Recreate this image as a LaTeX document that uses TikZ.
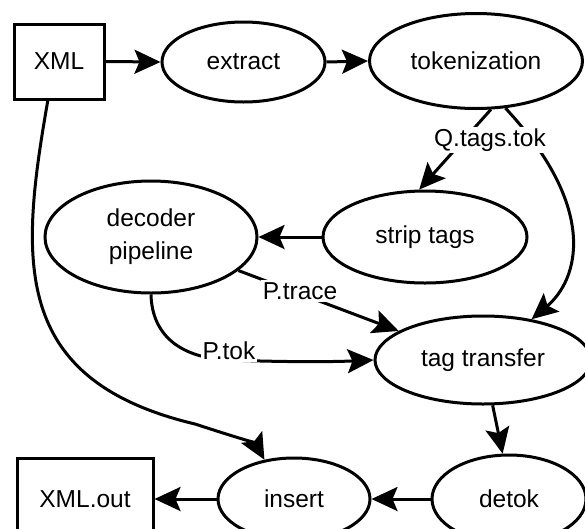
\documentclass[tikz,border=0pt]{standalone}
\usepackage{fontspec}
\setmainfont{Liberation Sans}
\usetikzlibrary{shapes.geometric,arrows.meta}
\begin{document}
\begin{tikzpicture}[x=1pt,y=-1pt,line width=3pt,
  every node/.style={font=\fontsize{24.5}{33}\selectfont},
  ell/.style={draw,ellipse,inner sep=0pt,align=center},
  box/.style={draw,rectangle,inner sep=0pt},
  arr/.style={-{Stealth[length=26pt,width=24pt,inset=5pt]}},
  lbl/.style={fill=white,inner sep=2pt}]
\useasboundingbox (0,0) rectangle (585,528);
% nodes
\node[box,minimum width=90pt,minimum height=75pt] (xml) at (59,61.5) {XML};
\node[ell,minimum width=163pt,minimum height=80pt] (extract) at (243.5,62) {extract};
\node[ell,minimum width=213pt,minimum height=95pt] (tok) at (476,61) {tokenization};
\node[ell,minimum width=204pt,minimum height=92pt] (strip) at (425,237) {strip tags};
\node[ell,minimum width=212pt,minimum height=112pt] (dec) at (151,237) {decoder\\pipeline};
\node[ell,minimum width=216pt,minimum height=88pt] (tt) at (483,360) {tag transfer};
\node[ell,minimum width=154pt,minimum height=88pt] (detok) at (509,499) {detok};
\node[ell,minimum width=152pt,minimum height=82pt] (insert) at (294,499) {insert};
\node[box,minimum width=136pt,minimum height=82pt] (xmlout) at (85,499) {XML.out};
% edges
\draw[arr] (xml.east) -- (extract.west);
\draw[arr] (extract.east) -- (tok.west);
\draw[arr] (tok.-73) -- (strip.97);
\draw[arr] (tok.-58) .. controls (600,210) and (578,280) .. (tt.40);
\node[lbl] (qlab) at (490,140) {Q.tags.tok};
\draw[arr] (strip.west) -- (dec.east);
\draw[arr] (dec.-21) -- (tt.161);
\node[lbl] (ptrace) at (300,291) {P.trace};
\draw[arr] (dec.-90) .. controls (152,335) and (180,358) .. (229,360) .. controls (280,362) and (330,362) .. (tt.west);
\node[lbl] (ptok) at (229,351) {P.tok};
\draw[arr] (xml.-106) .. controls (20,260) and (10,380) .. (195,424) .. controls (235,437) and (255,443) .. (insert.127);
\draw[arr] (tt.-78) -- (detok.98);
\draw[arr] (detok.west) -- (insert.east);
\draw[arr] (insert.west) -- (xmlout.east);
\end{tikzpicture}
\end{document}
